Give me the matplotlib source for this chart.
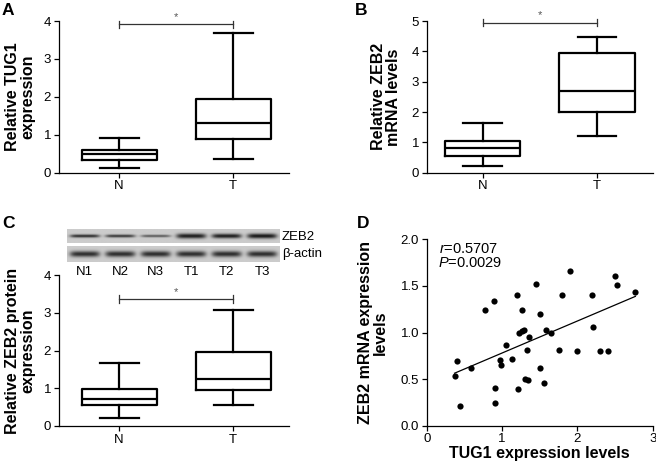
import numpy as np
import matplotlib
matplotlib.use("Agg")
import matplotlib.pyplot as plt

plt.rcParams['font.family'] = ['Liberation Sans', 'DejaVu Sans']
plt.rcParams['mathtext.fontset'] = 'custom'
plt.rcParams['mathtext.it'] = 'Liberation Sans:italic'
plt.rcParams['mathtext.rm'] = 'Liberation Sans'

# box plot summaries: (min, q1, median, q3, max)
groups = ["N", "T"]
tug1_N = [0.12, 0.33, 0.49, 0.59, 0.92]
tug1_T = [0.36, 0.89, 1.31, 1.95, 3.68]
zeb2_mrna_N = [0.21, 0.54, 0.80, 1.06, 1.65]
zeb2_mrna_T = [1.22, 2.01, 2.69, 3.96, 4.47]
zeb2_prot_N = [0.21, 0.55, 0.72, 0.98, 1.67]
zeb2_prot_T = [0.55, 0.95, 1.25, 1.97, 3.06]

# western blot lanes
lanes = ["N1", "N2", "N3", "T1", "T2", "T3"]
zeb2_band_int = [0.62, 0.58, 0.45, 0.68, 0.68, 0.70]
zeb2_band_thick = [1.6, 1.5, 1.3, 2.5, 2.3, 2.5]
actin_band_int = [0.62, 0.62, 0.62, 0.62, 0.62, 0.62]
actin_band_thick = [3.0, 3.0, 3.0, 3.0, 3.0, 3.0]

# scatter: TUG1 vs ZEB2 mRNA
tug1_x = [0.37, 0.40, 0.44, 0.59, 0.78, 0.89, 0.91, 0.90, 0.97, 0.99, 1.05, 1.13, 1.20,
          1.21, 1.23, 1.26, 1.27, 1.29, 1.31, 1.33, 1.35, 1.36, 1.45, 1.50, 1.51, 1.56,
          1.58, 1.65, 1.76, 1.80, 1.90, 2.00, 2.20, 2.21, 2.30, 2.40, 2.50, 2.52, 2.77]
zeb2_y = [0.54, 0.70, 0.21, 0.62, 1.24, 1.34, 0.41, 0.25, 0.71, 0.65, 0.87, 0.72, 1.40,
          0.40, 1.00, 1.24, 1.02, 1.03, 0.50, 0.81, 0.49, 0.95, 1.52, 1.20, 0.62, 0.46,
          1.03, 1.00, 0.81, 1.40, 1.66, 0.80, 1.40, 1.06, 0.80, 0.80, 1.60, 1.51, 1.43]

W, H = 656, 470
fig = plt.figure(figsize=(W / 100, H / 100), dpi=100)


def px_axes(left, top, right, bottom):
    return fig.add_axes([left / W, 1 - bottom / H, (right - left) / W, (bottom - top) / H])


def style(ax):
    for s in ["top", "right"]:
        ax.spines[s].set_visible(False)
    for s in ["left", "bottom"]:
        ax.spines[s].set_linewidth(0.9)
    ax.tick_params(direction="out", length=3.5, width=0.9, labelsize=9.5, pad=2)


def boxpanel(ax, n, t, ymax, sig_y, cap, xlim):
    stats = []
    for lab, v in zip(groups, [n, t]):
        stats.append(dict(label=lab, whislo=v[0], q1=v[1], med=v[2], q3=v[3], whishi=v[4], fliers=[]))
    lw = 1.6
    ax.bxp(stats, positions=[1, 2], widths=0.66, showfliers=False,
           boxprops=dict(color="black", linewidth=lw),
           medianprops=dict(color="black", linewidth=lw),
           whiskerprops=dict(color="black", linewidth=lw),
           capprops=dict(color="black", linewidth=lw),
           capwidths=0.34)
    ax.set_xlim(*xlim)
    ax.set_ylim(0, ymax)
    ax.set_yticks(range(0, ymax + 1))
    style(ax)
    # significance bar
    ax.plot([1, 2], [sig_y, sig_y], color="#333333", lw=0.9, clip_on=False)
    for xx in [1, 2]:
        ax.plot([xx, xx], [sig_y - cap, sig_y + cap], color="#333333", lw=0.9, clip_on=False)
    ax.text(1.5, sig_y + cap * 0.6, "*", ha="center", va="bottom", fontsize=8, color="#555555")


lab_kw = dict(fontsize=11.5, fontweight="bold", rotation=90, ha="center", va="center",
              linespacing=1.05)

# A
axA = px_axes(58.7, 21, 289, 172.7)
boxpanel(axA, tug1_N, tug1_T, 4, 3.91, 0.1, (0.47, 2.49))
axA.text(-0.168, 0.5, "Relative TUG1\nexpression", transform=axA.transAxes, **lab_kw)

# B
axB = px_axes(426.7, 21, 653, 172.7)
boxpanel(axB, zeb2_mrna_N, zeb2_mrna_T, 5, 4.95, 0.13, (0.51, 2.49))
axB.text(-0.18, 0.5, "Relative ZEB2\nmRNA levels", transform=axB.transAxes, **lab_kw)

# C
axC = px_axes(58.7, 275, 289, 426)
boxpanel(axC, zeb2_prot_N, zeb2_prot_T, 4, 3.36, 0.1, (0.47, 2.49))
axC.text(-0.168, 0.5, "Relative ZEB2 protein\nexpression", transform=axC.transAxes, **lab_kw)

# blot
axBlot = px_axes(67, 229, 280, 262)
axBlot.axis("off")


def strip(intens, thick, h):
    xs = np.linspace(0.5, 6.5, 600)
    ys = np.linspace(0, h, 60)
    X, Y = np.meshgrid(xs, ys)
    img = np.full(X.shape, 0.80)
    for i, (a, s) in enumerate(zip(intens, thick)):
        prof = np.exp(-((X - (i + 1)) / 0.42) ** 6) * np.exp(-((Y - h / 2) / s) ** 2)
        img -= a * prof
    return img


axBlot.imshow(strip(actin_band_int, actin_band_thick, 16), extent=(0.5, 6.5, 0, 16),
              cmap="gray", vmin=0, vmax=1, aspect="auto", origin="lower")
axBlot.imshow(strip(zeb2_band_int, zeb2_band_thick, 14), extent=(0.5, 6.5, 19, 33),
              cmap="gray", vmin=0, vmax=1, aspect="auto", origin="lower")
axBlot.set_xlim(0.5, 6.5)
axBlot.set_ylim(0, 33)
for i, lab in enumerate(lanes):
    axBlot.text(i + 1, -10, lab, ha="center", va="center", fontsize=9.5, clip_on=False)
axBlot.text(6.55, 25, "ZEB2", ha="left", va="center", fontsize=9.5)
axBlot.text(6.55, 7.5, "\u03b2-actin", ha="left", va="center", fontsize=9.5)

# D
axD = px_axes(426.7, 239, 652.7, 426)
axD.scatter(tug1_x, zeb2_y, s=20, color="black", zorder=3, linewidths=0)
k, b = np.polyfit(tug1_x, zeb2_y, 1)
xf = np.array([min(tug1_x), max(tug1_x)])
axD.plot(xf, k * xf + b, color="black", lw=0.9)
axD.set_xlim(0, 3)
axD.set_ylim(0, 2)
axD.set_xticks([0, 1, 2, 3])
axD.set_yticks([0, 0.5, 1.0, 1.5, 2.0])
axD.set_yticklabels(["0.0", "0.5", "1.0", "1.5", "2.0"])
style(axD)
axD.tick_params(axis="x", pad=1.5)
axD.text(0.055, 0.947, "$r$=0.5707", transform=axD.transAxes, ha="left", va="center", fontsize=10.5)
axD.text(0.05, 0.872, "$P$=0.0029", transform=axD.transAxes, ha="left", va="center", fontsize=10.5)
axD.text(-0.238, 0.5, "ZEB2 mRNA expression\nlevels", transform=axD.transAxes, **lab_kw)
axD.text(0.5, -0.145, "TUG1 expression levels", transform=axD.transAxes, ha="center",
         va="center", fontsize=11.5, fontweight="bold")

# panel letters
for lab, x, y in [("A", 2, 3), ("B", 355, 3), ("C", 2, 216), ("D", 357, 216)]:
    fig.text(x / W, 1 - y / H, lab, ha="left", va="top", fontsize=12.5, fontweight="bold")

fig.savefig("out.png", dpi=100)
